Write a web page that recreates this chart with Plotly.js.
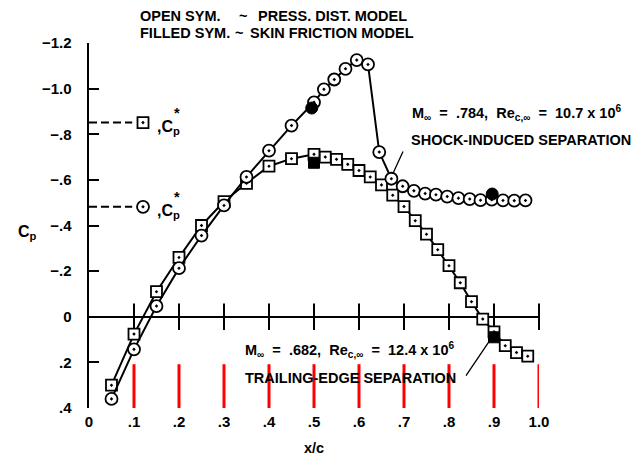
<!DOCTYPE html>
<html><head><meta charset="utf-8">
<script src="https://cdn.plot.ly/plotly-3.0.1.min.js"></script>
<style>html,body{margin:0;padding:0;background:#fff}</style>
</head><body><div id="chart" style="width:642px;height:457px"></div>
<script>
// ---- data ----
const xSquare = [0.05,0.10,0.15,0.20,0.25,0.30,0.35,0.40,0.45,0.50,0.525,0.55,0.575,0.60,0.625,0.65,0.675,0.70,0.725,0.75,0.775,0.80,0.825,0.85,0.875,0.90,0.925,0.95,0.975];
const cpSquare = [0.30,0.076,-0.11,-0.26,-0.40,-0.505,-0.585,-0.66,-0.693,-0.712,-0.70,-0.69,-0.668,-0.641,-0.613,-0.578,-0.533,-0.483,-0.421,-0.362,-0.294,-0.224,-0.149,-0.066,0.01,0.066,0.127,0.157,0.173];
const xCircle = [0.05,0.10,0.15,0.20,0.25,0.30,0.35,0.40,0.45,0.50,0.522,0.545,0.57,0.595,0.62,0.645,0.672,0.697,0.722,0.747,0.771,0.796,0.821,0.846,0.87,0.895,0.92,0.945,0.97];
const cpCircle = [0.36,0.143,-0.047,-0.213,-0.356,-0.488,-0.613,-0.728,-0.838,-0.94,-0.997,-1.04,-1.087,-1.125,-1.106,-0.722,-0.605,-0.572,-0.552,-0.54,-0.535,-0.527,-0.52,-0.516,-0.511,-0.513,-0.51,-0.509,-0.51];
const xSquareFilled = [0.50, 0.90];
const cpSquareFilled = [-0.675, 0.09];
const xCircleFilled = [0.495, 0.896];
const cpCircleFilled = [-0.915, -0.538];
const cpStarSquare = -0.851;
const cpStarCircle = -0.482;
const xTickVals = [0,0.1,0.2,0.3,0.4,0.5,0.6,0.7,0.8,0.9,1.0];
const xTickText = ['0','.1','.2','.3','.4','.5','.6','.7','.8','.9','1.0'];
const yTickVals = [-1.2,-1.0,-0.8,-0.6,-0.4,-0.2,0,0.2,0.4];
const yTickText = ['\u22121.2','\u22121.0','\u2212.8','\u2212.6','\u2212.4','\u2212.2','0','.2','.4'];

// ---- layout geometry ----
const W = 642, H = 457, L = 89, T = 43, PW = 450, PH = 365;
const yRange = [0.4, -1.2];
const px = p => (p - L) / PW;
const py = p => (T + PH - p) / PH;
const FONT = 'Liberation Sans, Arial, Helvetica, sans-serif';
const f = (s) => ({family: FONT, size: s || 14.5, color: '#000', weight: 'bold'});

const starLineEnd = 0.096, starMarkerX = 0.12;
const innerTicks = xTickVals.slice(1);

const traces = [
  {x: [0, starLineEnd], y: [cpStarSquare, cpStarSquare], mode: 'lines', line: {color: '#000', width: 2, dash: '8px,4px'}},
  {x: [0, starLineEnd], y: [cpStarCircle, cpStarCircle], mode: 'lines', line: {color: '#000', width: 2, dash: '8px,4px'}},
  {x: innerTicks, y: innerTicks.map(() => 0), mode: 'markers', cliponaxis: false,
   marker: {symbol: 'line-ns', size: 19, color: '#000', line: {color: '#000', width: 2}}},
  {x: [starMarkerX], y: [cpStarSquare], mode: 'markers', marker: {symbol: 'square-dot', size: 11, color: '#fff', line: {color: '#000', width: 1.8}}},
  {x: [starMarkerX], y: [cpStarCircle], mode: 'markers', marker: {symbol: 'circle-dot', size: 12, color: '#fff', line: {color: '#000', width: 1.8}}},
  {x: xSquare, y: cpSquare, mode: 'lines+markers', cliponaxis: false, line: {color: '#000', width: 2}, marker: {symbol: 'square-dot', size: 11, color: '#fff', line: {color: '#000', width: 1.8}}},
  {x: xCircle, y: cpCircle, mode: 'lines+markers', cliponaxis: false, line: {color: '#000', width: 2}, marker: {symbol: 'circle-dot', size: 12, color: '#fff', line: {color: '#000', width: 1.8}}},
  {x: xSquareFilled, y: cpSquareFilled, mode: 'markers', marker: {symbol: 'square', size: 11, color: '#000', line: {color: '#000', width: 1}}},
  {x: xCircleFilled, y: cpCircleFilled, mode: 'markers', marker: {symbol: 'circle', size: 12, color: '#000', line: {color: '#000', width: 1}}}
];

// diagnostic: bottom tick marks, deliberately long and red to find where they land
const bottomTickShapes = innerTicks.map(v => ({
  type: 'line', xref: 'x', yref: 'paper', x0: v, x1: v, y0: 0, y1: 0.12,
  line: {color: '#ff0000', width: 3}, layer: 'above'
}));

const layout = {
  width: W, height: H,
  margin: {l: L, r: W - L - PW, t: T, b: H - T - PH, pad: 0},
  paper_bgcolor: '#fff', plot_bgcolor: '#fff',
  showlegend: false,
  font: f(14.5),
  xaxis: {range: [0, 1.0], showgrid: false, zeroline: false, showline: false,
    ticks: '', tickvals: xTickVals, ticktext: xTickText,
    tickfont: f(15), ticklabelstandoff: 3, fixedrange: true},
  yaxis: {range: yRange.slice(), showgrid: false, zeroline: true, zerolinewidth: 2.5, zerolinecolor: '#000',
    showline: true, linewidth: 2.5, linecolor: '#000',
    ticks: 'inside', ticklen: 10, tickwidth: 2, tickcolor: '#000', tickvals: yTickVals, ticktext: yTickText,
    tickfont: f(15), ticklabelstandoff: 12, fixedrange: true},
  shapes: bottomTickShapes,
  annotations: [
    {text: 'OPEN SYM.', x: px(138), y: py(16)},
    {text: '~', x: px(237), y: py(16)},
    {text: 'PRESS. DIST. MODEL', x: px(256), y: py(16)},
    {text: 'FILLED SYM.', x: px(138), y: py(33)},
    {text: '~', x: px(233), y: py(33)},
    {text: 'SKIN FRICTION MODEL', x: px(248), y: py(33)},
    {text: 'M<sub>\u221e</sub>\u00a0 = \u00a0.784, \u00a0Re<sub>c,\u221e</sub>\u00a0 = \u00a010.7 x 10<sup>6</sup>', x: px(410), y: py(113)},
    {text: 'SHOCK-INDUCED SEPARATION', x: px(409), y: py(140)},
    {text: 'M<sub>\u221e</sub>\u00a0 = \u00a0.682, \u00a0Re<sub>c,\u221e</sub>\u00a0 = \u00a012.4 x 10<sup>6</sup>', x: px(243), y: py(350)},
    {text: 'TRAILING-EDGE SEPARATION', x: px(243), y: py(378)},
    {text: ',C<sub>p</sub>', x: px(155), y: py(127), font: f(16)},
    {text: '*', x: px(172), y: py(113)},
    {text: ',C<sub>p</sub>', x: px(155), y: py(211), font: f(16)},
    {text: '*', x: px(172), y: py(197)},
    {text: 'C<sub>p</sub>', x: px(16), y: py(232), font: f(16)},
    {text: 'x/c', x: px(314), y: py(448), xanchor: 'center'}
  ].map(a => Object.assign({xref: 'paper', yref: 'paper', xanchor: 'left', yanchor: 'middle', showarrow: false, font: f(14.5)}, a))
   .concat([
    {xref: 'x', yref: 'y', x: px(392.7), y: (174 - 316.7) / 228, ax: 11, ay: -24, text: '', showarrow: true, arrowhead: 0, arrowwidth: 1.3, arrowcolor: '#000', standoff: 0},
    {xref: 'x', yref: 'y', x: px(490), y: (340 - 316.7) / 228, ax: -25, ay: 37, text: '', showarrow: true, arrowhead: 0, arrowwidth: 1.3, arrowcolor: '#000', standoff: 0}
  ])
};

Plotly.newPlot('chart', traces, layout, {staticPlot: true, displayModeBar: false});
</script>
</body></html>
